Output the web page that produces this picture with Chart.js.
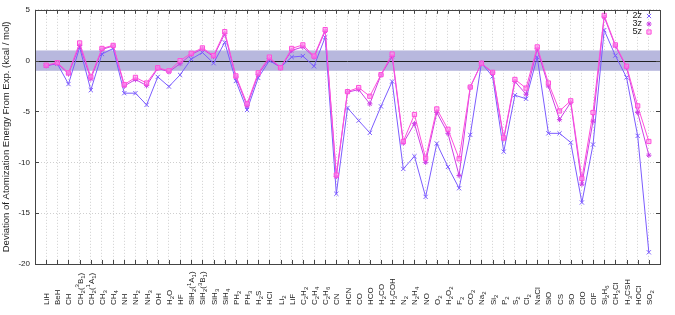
<!DOCTYPE html>
<html>
<head>
<meta charset="utf-8">
<script src="https://cdn.jsdelivr.net/npm/chart.js@4/dist/chart.umd.min.js"></script>
<style>
  html, body { margin: 0; padding: 0; background: #fff; }
  #wrap { width: 675px; height: 315px; }
</style>
</head>
<body>
<div id="wrap"><canvas id="chart"></canvas></div>
<script>
// molecule labels: _x = subscript, ^x = superscript
const categories = ['LiH','BeH','CH','CH_2(^3B_1)','CH_2(^1A_1)','CH_3','CH_4','NH','NH_2','NH_3',
  'OH','H_2O','HF','SiH_2(^1A_1)','SiH_2(^3B_1)','SiH_3','SiH_4','PH_2','PH_3','H_2S',
  'HCl','Li_2','LiF','C_2H_2','C_2H_4','C_2H_6','CN','HCN','CO','HCO',
  'H_2CO','H_3COH','N_2','N_2H_4','NO','O_2','H_2O_2','F_2','CO_2','Na_2',
  'Si_2','P_2','S_2','Cl_2','NaCl','SiO','CS','SO','ClO','ClF',
  'Si_2H_6','CH_3Cl','H_3CSH','HOCl','SO_2'];

const series2z = [-0.5,-0.3,-2.3,1.3,-2.9,0.65,1.2,-3.2,-3.2,-4.35,
  -1.6,-2.55,-1.4,0.15,0.8,-0.25,1.8,-2.0,-4.85,-1.7,
  0.0,-0.65,0.35,0.45,-0.55,2.3,-13.1,-4.65,-5.9,-7.1,
  -4.5,-2.05,-10.65,-9.4,-13.4,-8.15,-10.45,-12.55,-7.3,-0.25,
  -1.55,-8.95,-3.4,-3.75,0.35,-7.15,-7.15,-8.05,-13.95,-8.25,
  3.0,0.5,-1.65,-7.4,-18.85];
const series3z = [-0.5,-0.25,-1.3,1.5,-1.8,1.1,1.45,-2.5,-1.85,-2.45,
  -0.75,-1.1,-0.3,0.6,1.15,0.4,2.65,-1.6,-4.45,-1.35,
  0.2,-0.7,1.0,1.35,0.35,2.9,-11.4,-3.1,-2.85,-4.25,
  -1.4,0.4,-8.1,-6.2,-10.0,-5.1,-7.15,-11.3,-2.6,-0.25,
  -1.2,-7.7,-2.05,-3.3,1.15,-2.5,-5.8,-4.1,-12.15,-5.95,
  4.3,1.45,-0.65,-5.1,-9.3];
const series5z = [-0.45,-0.2,-1.2,1.74,-1.6,1.2,1.5,-2.35,-1.65,-2.2,
  -0.7,-1.0,0.0,0.72,1.25,0.5,2.85,-1.5,-4.25,-1.2,
  0.35,-0.7,1.2,1.55,0.45,3.05,-11.25,-3.05,-2.65,-3.5,
  -1.38,0.65,-7.95,-5.3,-9.6,-4.75,-6.75,-9.65,-2.6,-0.25,
  -1.15,-7.6,-1.85,-2.7,1.35,-2.2,-4.95,-3.95,-11.6,-5.1,
  4.45,1.55,-0.55,-4.45,-7.95];

const yTicks = [5, 0, -5, -10, -15, -20];
const band = [-1, 1];

const FONT = '"Liberation Sans", Arial, sans-serif';

const toPts = arr => arr.map((v, i) => ({ x: i + 1, y: v }));

const seriesDefs = [
  { label: '2z', data: series2z, color: '#7c5cff', style: 'crossRot', r: 3, fill: 'rgba(0,0,0,0)', order: 3 },
  { label: '3z', data: series3z, color: '#cc3ee6', style: 'star', r: 2.6, fill: '#cc3ee6', order: 2 },
  { label: '5z', data: series5z, color: '#ff4fdc', style: 'rect', r: 3, fill: 'rgba(255,150,235,0.6)', order: 1 }
];

// draw a label with sub/superscripts, rotated to read bottom-to-top
function drawRich(ctx, text, x, y) {
  ctx.save();
  ctx.translate(x, y);
  ctx.rotate(-Math.PI / 2);
  ctx.textBaseline = 'alphabetic';
  ctx.textAlign = 'left';
  let cx = 0;
  for (let i = 0; i < text.length; i++) {
    let ch = text[i], dy = 0, size = 8;
    if ((ch === '_' || ch === '^') && i + 1 < text.length) {
      dy = ch === '_' ? 2 : -3.5;
      size = 6;
      ch = text[++i];
    }
    ctx.font = size + 'px ' + FONT;
    ctx.fillText(ch, cx, dy + 3);
    cx += ctx.measureText(ch).width;
  }
  ctx.restore();
}

const decor = {
  id: 'decor',
  beforeDatasetsDraw(chart) {
    const { ctx, chartArea: a, scales: { y } } = chart;
    ctx.save();
    const yt = y.getPixelForValue(band[1]), yb = y.getPixelForValue(band[0]);
    ctx.fillStyle = '#b8b8de';
    ctx.fillRect(a.left, yt, a.right - a.left, yb - yt);
    ctx.strokeStyle = '#222';
    ctx.lineWidth = 1;
    const y0 = Math.round(y.getPixelForValue(0)) + 0.5;
    ctx.beginPath();
    ctx.moveTo(a.left, y0);
    ctx.lineTo(a.right, y0);
    ctx.stroke();
    ctx.restore();
  },
  afterDraw(chart) {
    const { ctx, chartArea: a, scales: { x, y } } = chart;
    ctx.save();
    // frame
    ctx.strokeStyle = '#444';
    ctx.lineWidth = 1;
    ctx.strokeRect(Math.round(a.left) + 0.5, Math.round(a.top) + 0.5,
      Math.round(a.right - a.left), Math.round(a.bottom - a.top));
    // inward ticks
    ctx.beginPath();
    categories.forEach((c, i) => {
      const px = Math.round(x.getPixelForValue(i + 1)) + 0.5;
      ctx.moveTo(px, a.bottom); ctx.lineTo(px, a.bottom - 4);
      ctx.moveTo(px, a.top); ctx.lineTo(px, a.top + 4);
    });
    yTicks.forEach(v => {
      const py = Math.round(y.getPixelForValue(v)) + 0.5;
      ctx.moveTo(a.left, py); ctx.lineTo(a.left + 4, py);
      ctx.moveTo(a.right, py); ctx.lineTo(a.right - 4, py);
    });
    ctx.stroke();
    // category labels
    ctx.fillStyle = '#222';
    categories.forEach((c, i) => {
      drawRich(ctx, c, x.getPixelForValue(i + 1), 305);
    });
    // legend
    ctx.font = '9px ' + FONT;
    ctx.textAlign = 'right';
    ctx.textBaseline = 'middle';
    seriesDefs.forEach((s, k) => {
      const ly = 16 + k * 8;
      ctx.fillStyle = '#222';
      ctx.fillText(s.label, 642, ly);
      ctx.strokeStyle = s.color;
      ctx.fillStyle = s.fill;
      ctx.lineWidth = 1;
      Chart.helpers.drawPoint(ctx, { pointStyle: s.style, radius: s.r, borderWidth: 1 }, 649, ly);
    });
    ctx.restore();
  }
};

new Chart(document.getElementById('chart'), {
  type: 'line',
  data: {
    datasets: seriesDefs.map(s => ({
      label: s.label,
      data: toPts(s.data),
      borderColor: s.color,
      backgroundColor: s.fill,
      borderWidth: 1,
      pointStyle: s.style,
      pointRadius: s.r,
      pointBorderWidth: 1,
      pointBorderColor: s.color,
      pointBackgroundColor: s.fill,
      tension: 0,
      order: s.order
    }))
  },
  options: {
    responsive: true,
    maintainAspectRatio: false,
    animation: false,
    layout: { padding: { top: 9, right: 15, left: 0, bottom: 0 } },
    plugins: { legend: { display: false }, tooltip: { enabled: false } },
    scales: {
      x: {
        type: 'linear',
        min: 0,
        max: categories.length + 1,
        afterBuildTicks: sc => { sc.ticks = categories.map((c, i) => ({ value: i + 1 })); },
        afterFit: sc => { sc.height = 51; },
        ticks: { display: false },
        grid: { color: '#cfcfcf', drawTicks: false },
        border: { display: false, dash: [1, 2] }
      },
      y: {
        min: -20,
        max: 5,
        afterBuildTicks: sc => { sc.ticks = yTicks.map(v => ({ value: v })); },
        afterFit: sc => { sc.width = 35; },
        ticks: { color: '#222', font: { family: FONT, size: 8 }, padding: 5 },
        grid: { color: '#cfcfcf', drawTicks: false },
        border: { display: false, dash: [1, 2] },
        title: {
          display: true,
          text: 'Deviation of Atomization Energy From Exp. (kcal / mol)',
          color: '#222',
          font: { family: FONT, size: 9.5 },
          padding: { top: 1, bottom: 0 }
        }
      }
    }
  },
  plugins: [decor]
});
</script>
</body>
</html>
